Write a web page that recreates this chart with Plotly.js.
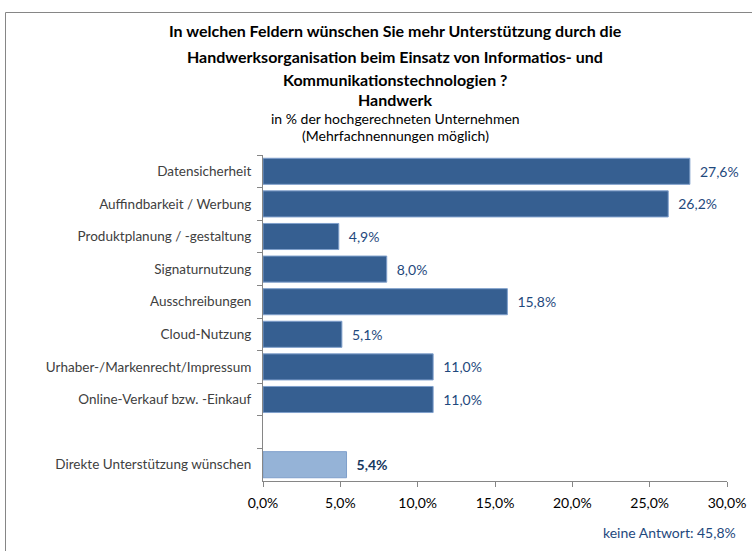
<!DOCTYPE html>
<html>
<head>
<meta charset="utf-8">
<script src="https://cdn.plot.ly/plotly-3.0.1.min.js"></script>
<style>
  body { margin: 0; background: #fff; }
  #chart { width: 752px; height: 551px; }
</style>
</head>
<body>
<div id="chart"></div>
<script>
// categories top to bottom, " " is the empty slot before the last bar
var categories = ['Datensicherheit', 'Auffindbarkeit / Werbung', 'Produktplanung / -gestaltung',
  'Signaturnutzung', 'Ausschreibungen', 'Cloud-Nutzung', 'Urhaber-/Markenrecht/Impressum',
  'Online-Verkauf bzw. -Einkauf', ' ', 'Direkte Unterstützung wünschen'];
var values = [27.6, 26.2, 4.9, 8.0, 15.8, 5.1, 11.0, 11.0, null, 5.4];
var xTicks = [0, 5, 10, 15, 20, 25, 30];
var xTickText = ['0,0%', '5,0%', '10,0%', '15,0%', '20,0%', '25,0%', '30,0%'];
var noAnswer = 'keine Antwort: 45,8%';

var dark = '#365F91', light = '#95B3D7';
var last = values.length - 1;
var colors = values.map(function (v, i) { return i == last ? light : dark; });
var labels = values.map(function (v, i) {
  if (v === null) return '';
  var s = '\u2002' + v.toFixed(1).replace('.', ',') + '%';
  return i == last ? '<b>' + s + '</b>' : s;
});
var labelColors = values.map(function (v, i) { return i == last ? '#17375E' : '#1F497D'; });

var trace = {
  type: 'bar',
  orientation: 'h',
  y: categories,
  x: values,
  width: 0.8,
  marker: { color: colors, line: { color: '#7F9FCB', width: 1 } },
  text: labels,
  textposition: 'outside',
  cliponaxis: false,
  textfont: { family: 'Lato, sans-serif', size: 14, color: labelColors },
  hoverinfo: 'none'
};

// pixel -> paper
function px(x) { return (x - 263) / 464; }
function py(y) { return (481 - y) / 326; }

var titleLines = [
  ['<b>In welchen Feldern wünschen Sie mehr Unterstützung durch die</b>', 31, 16],
  ['<b>Handwerksorganisation beim Einsatz von Informatios- und</b>', 57, 16],
  ['<b>Kommunikationstechnologien ?</b>', 79, 16],
  ['<b>Handwerk</b>', 99, 16],
  ['in % der hochgerechneten Unternehmen', 118, 14],
  ['(Mehrfachnennungen möglich)', 136, 14]
];
var annotations = titleLines.map(function (t) {
  return {
    xref: 'paper', yref: 'paper', x: px(395), y: py(t[1]),
    xanchor: 'center', yanchor: 'middle', showarrow: false,
    text: t[0], font: { family: 'Lato, sans-serif', size: t[2], color: '#000' }
  };
});
annotations.push({
  xref: 'paper', yref: 'paper', x: px(738), y: py(532),
  xanchor: 'right', yanchor: 'middle', showarrow: false,
  text: noAnswer, font: { family: 'Lato, sans-serif', size: 14, color: '#1F497D' }
});

var layout = {
  width: 752,
  height: 551,
  margin: { l: 263, r: 25, t: 155, b: 70 },
  paper_bgcolor: '#fff',
  plot_bgcolor: '#fff',
  separators: ',.',
  showlegend: false,
  bargap: 0.2,
  xaxis: {
    range: [0, 30],
    tickvals: xTicks,
    ticktext: xTickText,
    showgrid: false,
    zeroline: false,
    showline: true,
    linecolor: '#868686',
    linewidth: 1,
    ticks: 'outside',
    ticklen: 5,
    tickcolor: '#868686',
    ticklabelstandoff: 4,
    tickfont: { family: 'Lato, sans-serif', size: 14, color: '#000' },
    fixedrange: true
  },
  yaxis: {
    type: 'category',
    categoryorder: 'array',
    categoryarray: categories,
    autorange: 'reversed',
    showgrid: false,
    showline: true,
    linecolor: '#868686',
    linewidth: 1,
    ticks: 'outside',
    tickson: 'boundaries',
    ticklen: 5,
    tickcolor: '#868686',
    ticklabelstandoff: 8,
    tickfont: { family: 'Lato, sans-serif', size: 13.5, color: '#404040' },
    fixedrange: true
  },
  annotations: annotations,
  shapes: [
    { type: 'line', xref: 'paper', yref: 'paper', x0: px(5.5), x1: px(5.5), y0: py(12.5), y1: py(560), line: { color: '#868686', width: 1 } },
    { type: 'line', xref: 'paper', yref: 'paper', x0: px(5.5), x1: px(760), y0: py(12.5), y1: py(12.5), line: { color: '#868686', width: 1 } }
  ]
};

Plotly.newPlot('chart', [trace], layout, { displayModeBar: false, staticPlot: true });
</script>
</body>
</html>
